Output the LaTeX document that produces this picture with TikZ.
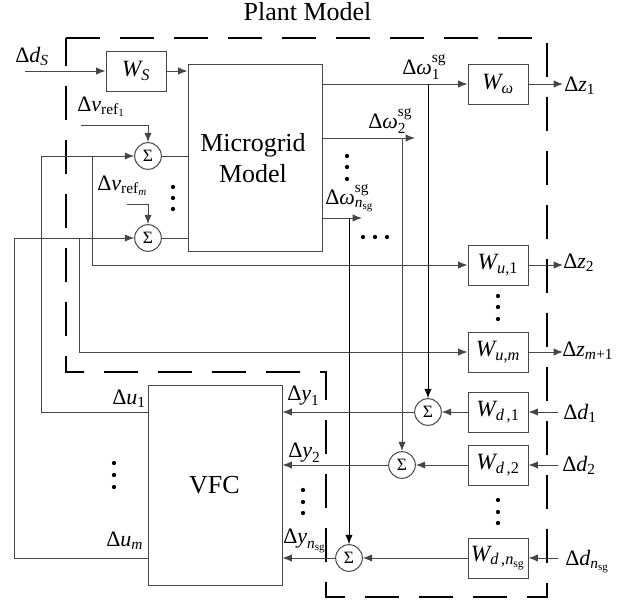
\documentclass[tikz,border=0pt]{standalone}
\usepackage{amsmath}
\usepackage{fontspec}
\setmainfont{Liberation Serif}
\usetikzlibrary{arrows.meta}
\newcommand\tI[1]{\text{\itshape #1}}
\definecolor{lc}{RGB}{70,70,70}
\begin{document}
\begin{tikzpicture}[x=0.75pt,y=-0.75pt,
  ln/.style={draw=lc,line width=0.75pt},
  arr/.style={ln,-{Latex[length=7pt,width=5.5pt]}},
  blk/.style={draw=lc,line width=0.75pt,minimum width=45pt,minimum height=30pt,inner sep=0pt,font=\fontsize{17.5}{20}\selectfont},
  sumnode/.style={circle,draw=lc,line width=0.75pt,minimum size=20pt,inner sep=0pt,font=\fontsize{13}{14}\selectfont},
  lab/.style={anchor=base west,inner sep=0pt,font=\fontsize{16.5}{19}\selectfont},
  big/.style={anchor=base,inner sep=0pt,font=\fontsize{19.5}{23}\selectfont},
  dotn/.style={circle,fill=black,inner sep=0pt,minimum size=3.2pt},
  bound/.style={draw=black,line width=1.9pt,dash pattern=on 25.5pt off 15pt}]
\useasboundingbox (0,0) rectangle (625,604);

% boundary
\draw[bound] (66,38) -- (547,38) -- (547,597) -- (326,597) -- (326,372) -- (66,372) -- cycle;
\node[big] (pm) at (307.5,20) {Plant Model};

% blocks
\node[blk] (ws) at (136,71) {$\tI{W}_{\tI{S}}$};
\node[blk,minimum width=100.5pt,minimum height=140.25pt] (mg) at (255,157.5) {};
\node[big] (mgt1) at (253,151) {Microgrid};
\node[big] (mgt2) at (253,182) {Model};
\node[blk] (wo) at (498,84) {$\tI{W}_{\tI{ω}}$};
\node[blk] (wu1) at (498,265) {$\tI{W}_{\tI{u}\text{,1}}$};
\node[blk] (wum) at (498,352) {$\tI{W}_{\tI{u}\text{,}\tI{m}}$};
\node[blk] (wd1) at (498,412) {$\tI{W}_{\tI{d}\text{\,,1}}$};
\node[blk] (wd2) at (498,465) {$\tI{W}_{\tI{d}\text{\,,2}}$};
\node[blk] (wdn) at (498,558) {$\tI{W}_{\tI{d}\text{\,,}\tI{n}_{\text{sg}}}$};
\node[blk,minimum width=100.5pt,minimum height=150pt] (vfc) at (215,485) {};
\node[big] (vfct) at (214.5,493) {VFC};

% sums
\node[sumnode] (s1) at (148,156) {Σ};
\node[sumnode] (s2) at (148,238) {Σ};
\node[sumnode] (s3) at (428,412) {Σ};
\node[sumnode] (s4) at (402,465) {Σ};
\node[sumnode] (s5) at (349,558) {Σ};

% labels
\node[lab] (lds) at (15,62) {$\text{Δ\textit{d}}_{\tI{S}}$};
\node[lab] (lvr1) at (77,111) {$\text{Δ\textit{v}}_{\text{ref}_{\text{1}}}$};
\node[lab] (lvrm) at (97,190) {$\text{Δ\textit{v}}_{\text{ref}_{\tI{m}}}$};
\node[lab] (lw1) at (402,74) {$\text{Δ\textit{ω}}_{\text{1}}^{\text{sg}}$};
\node[lab] (lw2) at (368,128) {$\text{Δ\textit{ω}}_{\text{2}}^{\text{sg}}$};
\node[lab] (lwn) at (325,204) {$\text{Δ\textit{ω}}_{\tI{n}_{\text{sg}}}^{\text{sg}}$};
\node[lab] (lz1) at (564,91) {$\text{Δ\textit{z}}_{\text{1}}$};
\node[lab] (lz2) at (563,268) {$\text{Δ\textit{z}}_{\text{2}}$};
\node[lab] (lzm) at (562,356) {$\text{Δ\textit{z}}_{\tI{m}\text{+1}}$};
\node[lab] (ld1) at (563,419) {$\text{Δ\textit{d}}_{\text{1}}$};
\node[lab] (ld2) at (562,471) {$\text{Δ\textit{d}}_{\text{2}}$};
\node[lab] (ldn) at (565,565) {$\text{Δ\textit{d}}_{\tI{n}_{\text{sg}}}$};
\node[lab] (lu1) at (112,404) {$\text{Δ\textit{u}}_{\text{1}}$};
\node[lab] (lum) at (106,546) {$\text{Δ\textit{u}}_{\tI{m}}$};
\node[lab] (ly1) at (287,400) {$\text{Δ\textit{y}}_{\text{1}}$};
\node[lab] (ly2) at (288,457) {$\text{Δ\textit{y}}_{\text{2}}$};
\node[lab] (lyn) at (283,543) {$\text{Δ\textit{y}}_{\tI{n}_{\text{sg}}}$};

% dots
\foreach \px/\py [count=\i] in {173/187,173/198,173/209, 347/156,347/167,347/179,
  363/237,375/237,387/237, 498/296,498/307,498/319, 498/500,498/512,498/523,
  114/463,114/475,114/487, 303/490,303/502,303/513}
  \node[dotn] (dot\i) at (\px,\py) {};

% coordinates
\coordinate (cds) at (25,71);
\coordinate (cr1) at (81,125);
\coordinate (crm) at (127,204);
\coordinate (cu1) at (41,412);
\coordinate (b1) at (92,156);
\coordinate (cum) at (14,558);
\coordinate (bm) at (79,238);
\coordinate (cz1) at (563,84);
\coordinate (cw2) at (415,138);
\coordinate (cwn) at (362,218);
\coordinate (cz2) at (563,265);
\coordinate (czm) at (563,352);
\coordinate (cd1) at (558,412);
\coordinate (cd2) at (558,465);
\coordinate (cdn) at (558,558);

% connectors
\draw[arr] (cds) -- (ws.west);
\draw[arr] (ws.east) -- (ws.east -| mg.west);
\draw[arr] (cr1) -| (s1.north);
\draw[arr] (crm) -| (s2.north);
\draw[ln] (s1.east) -- (s1.east -| mg.west);
\draw[ln] (s2.east) -- (s2.east -| mg.west);
\draw[arr] (vfc.west |- cu1) -- (cu1) |- (s1.west);
\draw[arr] (b1) |- (wu1.west);
\draw[arr] (vfc.west |- cum) -- (cum) |- (s2.west);
\draw[arr] (bm) |- (wum.west);

\draw[arr] (wo.west -| mg.east) -- (wo.west);
\draw[arr] (wo.east) -- (cz1);
\draw[arr,draw=black] (s3 |- wo) -- (s3.north);
\draw[arr] (cw2 -| mg.east) -- (cw2);
\draw[arr] (s4 |- cw2) -- (s4.north);
\draw[arr] (cwn -| mg.east) -- (cwn);
\draw[arr,draw=black] (s5 |- cwn) -- (s5.north);

\draw[arr] (wu1.east) -- (cz2);
\draw[arr] (wum.east) -- (czm);

\draw[arr] (cd1) -- (wd1.east);
\draw[arr] (wd1.west) -- (s3.east);
\draw[arr] (s3.west) -- (s3.west -| vfc.east);
\draw[arr] (cd2) -- (wd2.east);
\draw[arr] (wd2.west) -- (s4.east);
\draw[arr] (s4.west) -- (s4.west -| vfc.east);
\draw[arr] (cdn) -- (wdn.east);
\draw[arr] (wdn.west) -- (s5.east);
\draw[arr] (s5.west) -- (s5.west -| vfc.east);
\end{tikzpicture}
\end{document}
